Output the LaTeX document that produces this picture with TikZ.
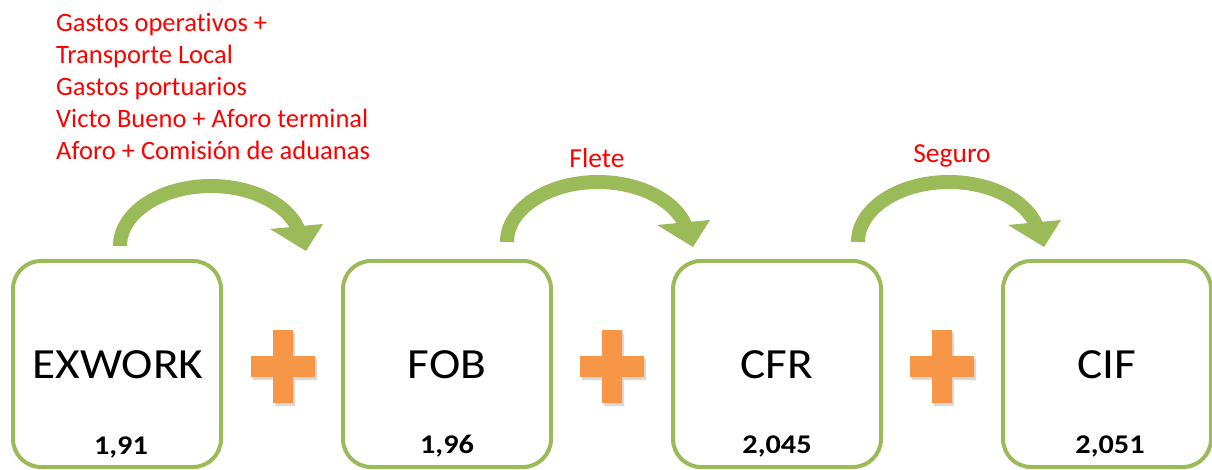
\documentclass[tikz,border=0pt]{standalone}
\usepackage{fontspec}
\setmainfont{Carlito}[Ligatures=NoCommon]
\usepackage{graphicx}
\usetikzlibrary{calc}

\definecolor{stagegreen}{HTML}{9BBB59}
\definecolor{plusorange}{HTML}{F79646}
\definecolor{notered}{HTML}{FF0000}

\tikzset{
  stage/.style={draw=stagegreen, line width=4pt, rounded corners=28pt,
    minimum width=208pt, minimum height=206pt, inner sep=0pt},
  stagename/.style={anchor=base, inner sep=0pt, font=\fontsize{43}{43}\selectfont},
  stagevalue/.style={anchor=base, inner sep=0pt, font=\fontsize{27}{27}\selectfont\bfseries},
  note/.style={anchor=base west, inner sep=0pt, text=notered,
    font=\fontsize{26.5}{32}\selectfont},
  costlabel/.style={anchor=base, inner sep=0pt, text=notered,
    font=\fontsize{27.5}{32}\selectfont},
  % thick elliptical arc ending in a triangular head
  pics/curvedarrow/.style={code={
    \draw[stagegreen, line width=14pt]
      (0,0) arc[start angle=180, end angle=345, x radius=91, y radius=60];
    \fill[stagegreen] (150,-17) -- (203,-22) -- (186,5) -- cycle;
  }},
  % orange plus sign with a faint shadow
  pics/plussign/.style={code={
    \fill[black, opacity=0.15, shift={(2,3)}]
      (-10,-36.5) -- (10,-36.5) -- (10,-10.5) -- (32,-10.5) -- (32,10.5)
      -- (10,10.5) -- (10,36.5) -- (-10,36.5) -- (-10,10.5) -- (-32,10.5)
      -- (-32,-10.5) -- (-10,-10.5) -- cycle;
    \fill[plusorange]
      (-10,-36.5) -- (10,-36.5) -- (10,-10.5) -- (32,-10.5) -- (32,10.5)
      -- (10,10.5) -- (10,36.5) -- (-10,36.5) -- (-10,10.5) -- (-32,10.5)
      -- (-32,-10.5) -- (-10,-10.5) -- cycle;
  }}
}

\begin{document}
\begin{tikzpicture}[x=1pt, y=-1pt]
\useasboundingbox (0,0) rectangle (1212,470);

% stage boxes
\node[stage] (exw) at (117,364) {};
\node[stage] (fob) at (447,364) {};
\node[stage] (cfr) at (777,364) {};
\node[stage] (cif) at (1107,364) {};

% stage names and values
\node[stagename] (exwname) at ($(exw.center)+(1,14)$) {\scalebox{1.1}[1]{EXWORK}};
\node[stagename] (fobname) at ($(fob.center)+(0,14)$) {\scalebox{1.1}[1]{FOB}};
\node[stagename] (cfrname) at ($(cfr.center)+(0,14)$) {\scalebox{1.1}[1]{CFR}};
\node[stagename] (cifname) at ($(cif.center)+(0,14)$) {\scalebox{1.1}[1]{CIF}};

\node[stagevalue] (exwval) at ($(exw.center)+(4,90)$) {\scalebox{1.12}[1]{1,91}};
\node[stagevalue] (fobval) at ($(fob.center)+(0,89)$) {\scalebox{1.12}[1]{1,96}};
\node[stagevalue] (cfrval) at ($(cfr.center)+(0,89)$) {\scalebox{1.12}[1]{2,045}};
\node[stagevalue] (cifval) at ($(cif.center)+(3,89)$) {\scalebox{1.12}[1]{2,051}};

% plus signs between the stages
\pic at (283,366.5) {plussign};
\pic at (612,366.5) {plussign};
\pic at (942,366.5) {plussign};

% curved arrows over the stages
\pic at (120,246) {curvedarrow};
\pic at (507,242) {curvedarrow};
\pic at (858,242) {curvedarrow};

% cost notes
\node[note] (n1) at (56,32)  {Gastos operativos +};
\node[note] (n2) at (56,64)  {Transporte Local};
\node[note] (n3) at (56,96)  {Gastos portuarios};
\node[note] (n4) at (56,128) {Victo Bueno + Aforo terminal};
\node[note] (n5) at (56,160) {Aforo + Comisión de aduanas};

\node[costlabel] (flete) at (597,168) {Flete};
\node[costlabel] (seguro) at (952,163) {Seguro};
\end{tikzpicture}
\end{document}
